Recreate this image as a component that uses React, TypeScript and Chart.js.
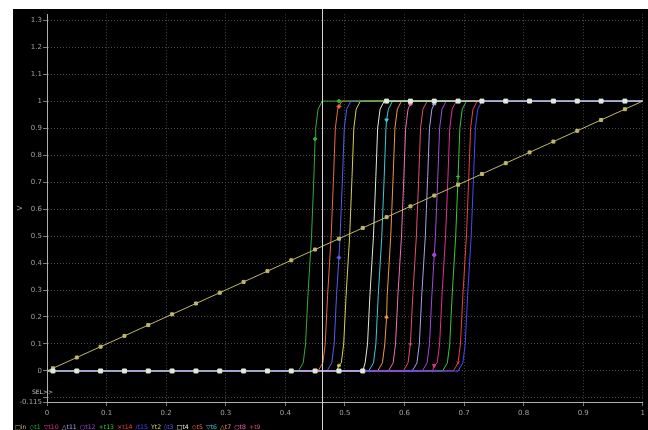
import React, { useEffect, useRef } from 'react';
import { Chart, registerables } from 'chart.js';
Chart.register(...registerables);

// ---- axis / tick data ----
const xTickValues = [0, 0.1, 0.2, 0.3, 0.4, 0.5, 0.6, 0.7, 0.8, 0.9, 1];
const xTickLabels = ['0', '0.1', '0.2', '0.3', '0.4', '0.5', '0.6', '0.7', '0.8', '0.9', '1'];
const yTickValues = [-0.115, -0.1, 0, 0.1, 0.2, 0.3, 0.4, 0.5, 0.6, 0.7, 0.8, 0.9, 1, 1.1, 1.2, 1.3];
const yTickLabels = ['-0.115', '', '0', '0.1', '0.2', '0.3', '0.4', '0.5', '0.6', '0.7', '0.8', '0.9', '1', '1.1', '1.2', '1.3'];
const yMin = -0.115;
const yMax = 1.322;
const cursorX = 0.461;
const legendNames = ['in', 't1', 't10', 't11', 't12', 't13', 't14', 't15', 't2', 't3', 't4', 't5', 't6', 't7', 't8', 't9'];

// ---- series data: [x, V] ----
const inRamp = [[0, 0], [0.01, 0.01], [0.05, 0.05], [0.09, 0.09], [0.13, 0.13], [0.17, 0.17], [0.21, 0.21], [0.25, 0.25], [0.29, 0.29], [0.33, 0.33], [0.37, 0.37], [0.41, 0.41], [0.45, 0.45], [0.49, 0.49], [0.53, 0.53], [0.57, 0.57], [0.61, 0.61], [0.65, 0.65], [0.69, 0.69], [0.73, 0.73], [0.77, 0.77], [0.81, 0.81], [0.85, 0.85], [0.89, 0.89], [0.93, 0.93], [0.97, 0.97], [1, 1]];
const t1 = [[0, 0], [0.422, 0], [0.430, 0.03], [0.434, 0.1], [0.438, 0.28], [0.444, 0.5], [0.448, 0.72], [0.45, 0.86], [0.451, 0.9], [0.455, 0.97], [0.462, 1], [0.49, 1], [1, 1]];
const t2 = [[0, 0], [0.486, 0], [0.49, 0.02], [0.494, 0.03], [0.498, 0.1], [0.502, 0.28], [0.508, 0.5], [0.512, 0.72], [0.515, 0.9], [0.519, 0.97], [0.526, 1], [1, 1]];
const t3 = [[0, 0], [0.470, 0], [0.478, 0.03], [0.482, 0.1], [0.486, 0.28], [0.49, 0.42], [0.492, 0.5], [0.496, 0.72], [0.499, 0.9], [0.503, 0.97], [0.510, 1], [1, 1]];
const t4 = [[0, 0], [0.01, 0], [0.05, 0], [0.09, 0], [0.13, 0], [0.17, 0], [0.21, 0], [0.25, 0], [0.29, 0], [0.33, 0], [0.37, 0], [0.41, 0], [0.45, 0], [0.49, 0], [0.53, 0], [0.534, 0.03], [0.538, 0.1], [0.542, 0.28], [0.548, 0.5], [0.552, 0.72], [0.555, 0.9], [0.559, 0.97], [0.566, 1], [0.57, 1], [0.61, 1], [0.65, 1], [0.69, 1], [0.73, 1], [0.77, 1], [0.81, 1], [0.85, 1], [0.89, 1], [0.93, 1], [0.97, 1], [1, 1]];
const t5 = [[0, 0], [0.455, 0], [0.463, 0.03], [0.467, 0.1], [0.471, 0.28], [0.477, 0.5], [0.481, 0.72], [0.484, 0.9], [0.488, 0.97], [0.49, 0.98], [0.495, 1], [1, 1]];
const t6 = [[0, 0], [0.540, 0], [0.548, 0.03], [0.552, 0.1], [0.556, 0.28], [0.562, 0.5], [0.566, 0.72], [0.569, 0.9], [0.57, 0.93], [0.573, 0.97], [0.580, 1], [1, 1]];
const t7 = [[0, 0], [0.555, 0], [0.563, 0.03], [0.567, 0.1], [0.57, 0.2], [0.571, 0.28], [0.577, 0.5], [0.581, 0.72], [0.584, 0.9], [0.588, 0.97], [0.595, 1], [1, 1]];
const t8 = [[0, 0], [0.573, 0], [0.581, 0.03], [0.585, 0.1], [0.589, 0.28], [0.595, 0.5], [0.599, 0.72], [0.602, 0.9], [0.606, 0.97], [0.61, 0.99], [0.613, 1], [1, 1]];
const t9 = [[0, 0], [0.598, 0], [0.606, 0.03], [0.61, 0.1], [0.614, 0.28], [0.620, 0.5], [0.624, 0.72], [0.627, 0.9], [0.631, 0.97], [0.638, 1], [1, 1]];
const t10 = [[0, 0], [0.647, 0], [0.65, 0.02], [0.655, 0.03], [0.659, 0.1], [0.663, 0.28], [0.669, 0.5], [0.673, 0.72], [0.676, 0.9], [0.680, 0.97], [0.687, 1], [1, 1]];
const t11 = [[0, 0], [0.613, 0], [0.621, 0.03], [0.625, 0.1], [0.629, 0.28], [0.635, 0.5], [0.639, 0.72], [0.642, 0.9], [0.646, 0.97], [0.65, 0.99], [0.653, 1], [1, 1]];
const t12 = [[0, 0], [0.630, 0], [0.638, 0.03], [0.642, 0.1], [0.646, 0.28], [0.65, 0.43], [0.652, 0.5], [0.656, 0.72], [0.659, 0.9], [0.663, 0.97], [0.670, 1], [1, 1]];
const t13 = [[0, 0], [0.664, 0], [0.672, 0.03], [0.676, 0.1], [0.680, 0.28], [0.686, 0.5], [0.69, 0.72], [0.693, 0.9], [0.697, 0.97], [0.704, 1], [1, 1]];
const t14 = [[0, 0], [0.682, 0], [0.69, 0.03], [0.694, 0.1], [0.698, 0.28], [0.704, 0.5], [0.708, 0.72], [0.711, 0.9], [0.715, 0.97], [0.722, 1], [1, 1]];
const t15 = [[0, 0], [0.61, 0], [0.65, 0], [0.69, 0], [0.698, 0.03], [0.702, 0.1], [0.706, 0.28], [0.712, 0.5], [0.716, 0.72], [0.719, 0.9], [0.723, 0.97], [0.730, 1], [1, 1]];

const seriesData: Record<string, number[][]> = { in: inRamp, t1, t10, t11, t12, t13, t14, t15, t2, t3, t4, t5, t6, t7, t8, t9 };

// ---- styles ----
const styles: Record<string, { color: string; point: string; rot?: number; r: number; order: number; sym: string }> = {
  in: { color: '#c0b868', point: 'rect', r: 2.1, order: 1, sym: '\u25A1' },
  t1: { color: '#3aa83a', point: 'rectRot', r: 2, order: 3, sym: '\u25C7' },
  t10: { color: '#e03090', point: 'triangle', rot: 180, r: 2, order: 3, sym: '\u25BD' },
  t11: { color: '#a8a0e8', point: 'triangle', r: 2, order: 3, sym: '\u25B3' },
  t12: { color: '#a448d8', point: 'circle', r: 1.7, order: 3, sym: '\u25CB' },
  t13: { color: '#3cc43c', point: 'cross', r: 2, order: 3, sym: '+' },
  t14: { color: '#f04040', point: 'crossRot', r: 2, order: 3, sym: '\u00D7' },
  t15: { color: '#4848ff', point: 'line', rot: -45, r: 2, order: 2, sym: '/' },
  t2: { color: '#d8d050', point: 'star', r: 2, order: 3, sym: 'Y' },
  t3: { color: '#5a5af0', point: 'rectRot', r: 2, order: 3, sym: '\u25CA' },
  t4: { color: '#e0ead8', point: 'rect', r: 2.8, order: 0, sym: '\u25A1' },
  t5: { color: '#ec6a40', point: 'rectRot', r: 2, order: 3, sym: '\u25C7' },
  t6: { color: '#40c8d8', point: 'triangle', rot: 180, r: 2, order: 3, sym: '\u25BD' },
  t7: { color: '#f09840', point: 'triangle', r: 2, order: 3, sym: '\u25B3' },
  t8: { color: '#f070b8', point: 'circle', r: 1.7, order: 3, sym: '\u25CB' },
  t9: { color: '#e05070', point: 'cross', r: 2, order: 3, sym: '+' },
};

const isGridMark = (x: number) => {
  if (x <= 0 || x >= 1) return false;
  const k = (x - 0.01) / 0.04;
  return Math.abs(k - Math.round(k)) < 1e-6;
};

const tickColor = '#a0a0a0';
const tickFont = { family: 'DejaVu Sans', size: 7 };

const cursorPlugin = {
  id: 'cursorLine',
  afterDraw(chart: any) {
    const { ctx } = chart;
    const x = Math.round(chart.scales.x.getPixelForValue(cursorX)) + 0.5;
    ctx.save();
    ctx.strokeStyle = '#d4d4d4';
    ctx.lineWidth = 1;
    ctx.beginPath();
    ctx.moveTo(x, 0);
    ctx.lineTo(x, chart.height);
    ctx.stroke();
    ctx.restore();
  },
};

export default function App() {
  const ref = useRef<HTMLCanvasElement>(null);
  useEffect(() => {
    if (!ref.current) return;
    const datasets = legendNames.map((name) => {
      const st = styles[name];
      return {
        label: name,
        data: seriesData[name].map(([x, y]) => ({ x, y })),
        showLine: true,
        borderColor: st.color,
        backgroundColor: st.color,
        borderWidth: 1,
        tension: 0,
        order: st.order,
        pointStyle: st.point,
        pointRotation: st.rot || 0,
        pointBorderWidth: 1,
        pointRadius: (ctx: any) => (ctx.raw && isGridMark(ctx.raw.x) ? st.r : 0),
        pointHoverRadius: 0,
      };
    });
    const chart = new Chart(ref.current, {
      type: 'scatter',
      data: { datasets },
      plugins: [cursorPlugin],
      options: {
        animation: false,
        responsive: false,
        maintainAspectRatio: false,
        devicePixelRatio: 1,
        events: [],
        layout: { padding: { left: 0, right: 3, top: 5, bottom: 0 } },
        plugins: { legend: { display: false }, tooltip: { enabled: false } },
        scales: {
          x: {
            type: 'linear',
            min: 0,
            max: 1,
            afterFit: (s: any) => { s.height = 28; },
            afterBuildTicks: (s: any) => { s.ticks = xTickValues.map((v) => ({ value: v })); },
            ticks: {
              callback: (_v: any, i: number) => xTickLabels[i],
              color: tickColor,
              font: tickFont,
              padding: 3,
              autoSkip: false,
              maxRotation: 0,
            },
            grid: { color: '#464646', tickColor: '#7a7a7a', tickLength: 4, lineWidth: 1 },
            border: { color: '#b0b0b0', width: 1, dash: [1, 2] },
          },
          y: {
            type: 'linear',
            min: yMin,
            max: yMax,
            afterFit: (s: any) => { s.width = 34; },
            afterBuildTicks: (s: any) => { s.ticks = yTickValues.map((v) => ({ value: v })); },
            ticks: {
              callback: (_v: any, i: number) => yTickLabels[i],
              color: tickColor,
              font: tickFont,
              padding: 1,
              autoSkip: false,
            },
            grid: { color: '#464646', tickColor: '#7a7a7a', tickLength: 4, lineWidth: 1 },
            border: { color: '#b0b0b0', width: 1, dash: [1, 2] },
            title: { display: true, text: 'V', color: tickColor, font: tickFont, padding: { top: 3, bottom: 0 } },
          },
        },
      },
    } as any);
    return () => chart.destroy();
  }, []);

  return (
    <div style={{ position: 'absolute', left: 13, top: 9, width: 635, height: 421, background: '#000', overflow: 'hidden' }}>
      <canvas ref={ref} width={635} height={421} style={{ display: 'block', width: 635, height: 421 }} />
      <div style={{ position: 'absolute', left: 19, top: 379, fontFamily: 'DejaVu Sans', fontSize: 6, lineHeight: '7px', color: '#d0d0d0' }}>SEL&gt;&gt;</div>
      <div style={{ position: 'absolute', left: 2, top: 414, fontFamily: 'DejaVu Sans', fontSize: 6.2, lineHeight: '8px', whiteSpace: 'nowrap' }}>
        {legendNames.map((name) => (
          <span key={name} style={{ color: styles[name].color, marginRight: 3 }}>
            {styles[name].sym}{name}
          </span>
        ))}
      </div>
    </div>
  );
}
